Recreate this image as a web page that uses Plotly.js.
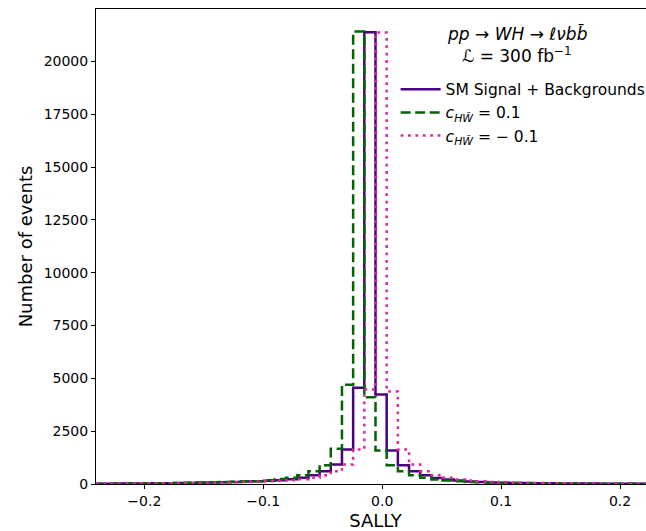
<!DOCTYPE html>
<html>
<head>
<meta charset="utf-8">
<script src="https://cdn.plot.ly/plotly-3.0.1.min.js"></script>
<style>
  html, body { margin: 0; padding: 0; overflow: hidden; background: #fff; }
  #chart { width: 660px; height: 531px; }
</style>
</head>
<body>
<div id="chart"></div>
<script>
// Histogram binning of the SALLY score
const binStart = -0.2406;
const binWidth = 0.0094;

// Event counts per bin (50 bins)
const smCounts = [15, 17, 19, 22, 25, 30, 36, 42, 50, 60,
                  72, 85, 100, 115, 130, 150, 180, 230, 290, 418,
                  607, 922, 1632, 4550, 21380, 4234, 1585, 890, 607, 410,
                  280, 210, 160, 120, 95, 75, 60, 50, 42, 36,
                  31, 27, 24, 21, 19, 17, 15, 13, 12, 11];
const plusCounts = [16, 18, 21, 24, 28, 33, 39, 46, 55, 66,
                    80, 95, 110, 122, 134, 180, 235, 292, 418, 607,
                    890, 1665, 4700, 21410, 4106, 1585, 890, 607, 418, 290,
                    215, 165, 125, 98, 78, 62, 52, 43, 37, 32,
                    28, 24, 21, 19, 17, 15, 13, 12, 11, 10];
const minusCounts = [13, 15, 17, 19, 22, 25, 30, 36, 42, 50,
                     60, 72, 85, 100, 115, 130, 150, 180, 230, 290,
                     418, 607, 922, 1632, 4470, 21370, 4376, 1632, 922, 607,
                     418, 290, 215, 165, 125, 98, 78, 62, 52, 43,
                     37, 32, 28, 25, 22, 19, 17, 15, 13, 12];

const seriesNames = [
  'SM Signal + Backgrounds',
  '<i>c</i><sub><i>HW̃</i></sub> = 0.1',
  '<i>c</i><sub><i>HW̃</i></sub> = − 0.1'
];
const yTicks = [0, 2500, 5000, 7500, 10000, 12500, 15000, 17500, 20000];
const xTicks = [-0.2, -0.1, 0.0, 0.1, 0.2];

// Step outline: bin edges with the final count repeated at the right edge
function stepTrace(counts, name, color, dash) {
  const x = counts.map((_, i) => binStart + i * binWidth);
  x.push(binStart + counts.length * binWidth);
  const y = counts.concat([counts[counts.length - 1]]);
  return {
    type: 'scatter', mode: 'lines', name: name,
    x: x, y: y,
    line: { shape: 'hv', color: color, width: 2.5, dash: dash },
    hoverinfo: 'skip'
  };
}

const traces = [
  stepTrace(smCounts, seriesNames[0], '#4b0082', 'solid'),
  stepTrace(plusCounts, seriesNames[1], '#006400', '10px,4.5px'),
  stepTrace(minusCounts, seriesNames[2], '#dd2a9b', '2.8px,4.6px')
];

const font = { family: 'DejaVu Sans, sans-serif', color: '#000' };

const layout = {
  width: 660, height: 531,
  margin: { l: 96, r: 5, t: 9, b: 47 },
  paper_bgcolor: '#fff', plot_bgcolor: '#fff',
  font: Object.assign({ size: 14 }, font),
  showlegend: true,
  legend: {
    x: 0.536, y: 0.866, xanchor: 'left', yanchor: 'top',
    bgcolor: 'rgba(0,0,0,0)', borderwidth: 0,
    font: Object.assign({ size: 15.5 }, font),
    itemwidth: 40
  },
  xaxis: {
    range: [binStart, binStart + smCounts.length * binWidth],
    tickvals: xTicks, tickformat: '.1f',
    ticks: 'outside', ticklen: 4, tickwidth: 1, tickcolor: '#000',
    showline: true, linecolor: '#000', linewidth: 1, mirror: true,
    showgrid: false, zeroline: false,
    tickfont: Object.assign({ size: 14 }, font),
    title: { text: 'SALLY', font: Object.assign({ size: 18 }, font), standoff: 8 }
  },
  yaxis: {
    range: [0, 22480],
    tickvals: yTicks, tickformat: 'd',
    ticks: 'outside', ticklen: 4, tickwidth: 1, tickcolor: '#000',
    showline: true, linecolor: '#000', linewidth: 1, mirror: true,
    showgrid: false, zeroline: false,
    tickfont: Object.assign({ size: 14 }, font),
    title: { text: 'Number of events', font: Object.assign({ size: 18 }, font), standoff: 6 }
  },
  annotations: [
    {
      xref: 'paper', yref: 'paper', x: 0.753, y: 0.949,
      xanchor: 'center', yanchor: 'middle', showarrow: false,
      text: '<i>pp</i> → <i>WH</i> → <i>ℓνb</i><i>b̄</i>',
      font: Object.assign({ size: 17 }, font)
    },
    {
      xref: 'paper', yref: 'paper', x: 0.753, y: 0.903,
      xanchor: 'center', yanchor: 'middle', showarrow: false,
      text: 'ℒ = 300 fb<sup>−1</sup>',
      font: Object.assign({ size: 17 }, font)
    }
  ]
};

Plotly.newPlot('chart', traces, layout, { displayModeBar: false, staticPlot: true });
</script>
</body>
</html>
